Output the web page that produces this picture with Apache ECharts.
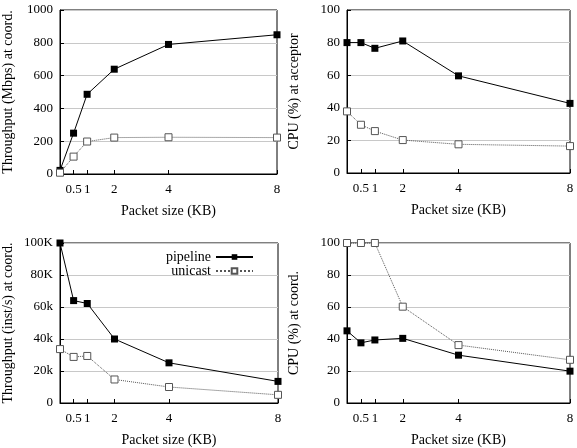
<!DOCTYPE html>
<html>
<head>
<meta charset="utf-8">
<title>Packet size charts</title>
<script src="https://cdn.jsdelivr.net/npm/echarts@6/dist/echarts.min.js"></script>
<style>
  html, body { margin: 0; padding: 0; background: #fff; }
  #chart { width: 577px; height: 448px; }
</style>
</head>
<body>
<div id="chart"></div>
<script>
// packet sizes (KB) and x tick labels
const packetSizes = [0, 0.5, 1, 2, 4, 8]
const xTicks = [0.5, 1, 2, 4, 8]

// throughput (Mbps) at coordinator
const mbpsPipeline = [22, 249, 486, 639, 790, 849]
const mbpsUnicast = [8, 106, 198, 222, 224, 222]

// CPU (%) at acceptor
const cpuAccPipeline = [80, 80, 76.5, 81, 59.6, 42.7]
const cpuAccUnicast = [37.8, 29.6, 25.7, 20.2, 17.6, 16.5]

// throughput (inst/s) at coordinator
const instPipeline = [100000, 64000, 62200, 40000, 25100, 13500]
const instUnicast = [33700, 28800, 29400, 14700, 10000, 5100]
const instTickLabels = { 0: '0', 20000: '20k', 40000: '40k', 60000: '60k', 80000: '80K', 100000: '100K' }

// CPU (%) at coordinator
const cpuCoordPipeline = [45.1, 37.6, 39.4, 40.4, 29.9, 19.9]
const cpuCoordUnicast = [100, 100, 100, 60.2, 36.2, 27]

const FONT = 'Liberation Serif'
const txt = { fontFamily: FONT, fontSize: 13, color: '#000' }
const nameTxt = { fontFamily: FONT, fontSize: 14, color: '#000' }

const pairs = (ys) => ys.map((y, i) => [packetSizes[i], y])

const grids = [
  { left: 54, top: 10, width: 223, height: 164 },
  { left: 347, top: 10, width: 223, height: 163 },
  { left: 54, top: 243, width: 224, height: 164 },
  { left: 347, top: 243, width: 223, height: 164 }
].map(g => Object.assign(g, { show: true, borderColor: '#000', borderWidth: 1, backgroundColor: 'transparent' }))

function xAxisFor(idx) {
  return {
    type: 'value',
    gridIndex: idx,
    min: 0,
    max: 8,
    name: 'Packet size (KB)',
    nameLocation: 'middle',
    nameGap: 30,
    nameTextStyle: nameTxt,
    axisLine: { lineStyle: { color: '#000' } },
    axisTick: { inside: true, length: 4, customValues: xTicks, lineStyle: { color: '#000' } },
    axisLabel: Object.assign({ customValues: xTicks, margin: 9 }, txt),
    splitLine: { show: false }
  }
}

function yAxisFor(idx, name, max, interval, nameGap, formatter) {
  return {
    type: 'value',
    gridIndex: idx,
    min: 0,
    max: max,
    interval: interval,
    name: name,
    nameLocation: 'middle',
    nameGap: nameGap,
    nameTextStyle: nameTxt,
    axisLine: { show: true, lineStyle: { color: '#000' } },
    axisTick: { show: true, inside: true, length: 4, lineStyle: { color: '#000' } },
    axisLabel: Object.assign({ margin: 7, formatter: formatter || (v => String(v)) }, txt),
    splitLine: { show: true, lineStyle: { color: '#c8c8c8', width: 1 } }
  }
}

function pipelineSeries(idx, ys) {
  return {
    name: 'pipeline',
    type: 'line',
    xAxisIndex: idx,
    yAxisIndex: idx,
    data: pairs(ys),
    clip: false,
    symbol: 'rect',
    symbolSize: 7,
    color: '#000',
    lineStyle: { color: '#000', width: 1 },
    itemStyle: { color: '#000' },
    animation: false
  }
}

function unicastSeries(idx, ys) {
  return {
    name: 'unicast',
    type: 'line',
    xAxisIndex: idx,
    yAxisIndex: idx,
    data: pairs(ys),
    clip: false,
    symbol: 'rect',
    symbolSize: 7,
    color: '#555',
    lineStyle: { color: '#555', width: 1, type: 'dotted' },
    itemStyle: { color: '#fff', borderColor: '#555', borderWidth: 1 },
    animation: false
  }
}

const chart = echarts.init(document.getElementById('chart'), null, { renderer: 'canvas' })
chart.setOption({
  backgroundColor: '#fff',
  animation: false,
  grid: grids,
  xAxis: [0, 1, 2, 3].map(xAxisFor),
  yAxis: [
    yAxisFor(0, 'Throughput (Mbps) at coord.', 1000, 200, 45),
    yAxisFor(1, 'CPU (%) at acceptor', 100, 20, 46),
    yAxisFor(2, 'Throughput (inst/s) at coord.', 100000, 20000, 45, v => instTickLabels[v]),
    yAxisFor(3, 'CPU (%) at coord.', 100, 20, 46)
  ],
  legend: {
    data: ['pipeline', 'unicast'],
    orient: 'vertical',
    align: 'right',
    right: 318,
    top: 245,
    itemWidth: 37,
    itemHeight: 7,
    itemGap: 0,
    textStyle: { fontFamily: FONT, fontSize: 14, color: '#000' }
  },
  series: [
    pipelineSeries(0, mbpsPipeline),
    unicastSeries(0, mbpsUnicast),
    pipelineSeries(1, cpuAccPipeline),
    unicastSeries(1, cpuAccUnicast),
    pipelineSeries(2, instPipeline),
    unicastSeries(2, instUnicast),
    pipelineSeries(3, cpuCoordPipeline),
    unicastSeries(3, cpuCoordUnicast)
  ]
})
</script>
</body>
</html>
